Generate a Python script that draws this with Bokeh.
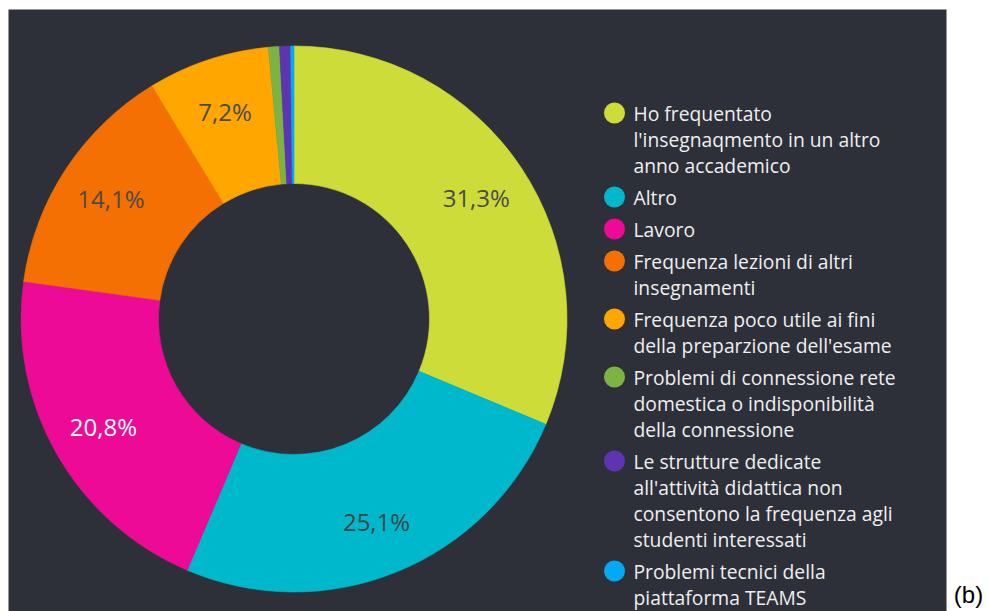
import math
from bokeh.plotting import figure
from bokeh.models import ColumnDataSource, Range1d
from bokeh.core.properties import value
from bokeh.embed import file_html
from bokeh.resources import INLINE

# ---------------- data ----------------
categories = [
    "Ho frequentato\nl'insegnaqmento in un altro\nanno accademico",
    "Altro",
    "Lavoro",
    "Frequenza lezioni di altri\ninsegnamenti",
    "Frequenza poco utile ai fini\ndella preparzione dell'esame",
    "Problemi di connessione rete\ndomestica o indisponibilità\ndella connessione",
    "Le strutture dedicate\nall'attività didattica non\nconsentono la frequenza agli\nstudenti interessati",
    "Problemi tecnici della\npiattaforma TEAMS",
]
percentages = [31.3, 25.1, 20.8, 14.1, 7.2, 0.65, 0.65, 0.2]
value_labels = ["31,3%", "25,1%", "20,8%", "14,1%", "7,2%", "", "", ""]
panel_tag = ["(b)"]

# ---------------- styles ----------------
slice_colors = ["#CDDC39", "#00B8CC", "#EC0A96", "#F57002", "#FFA600",
                "#7CB342", "#5E35B1", "#03A9F4"]
value_label_colors = ["#4A4A4A", "#3F4447", "#FFFFFF", "#4A4A4A", "#4A4A4A",
                      "#4A4A4A", "#4A4A4A", "#4A4A4A"]
PANEL_BG = "#2D3039"
LEGEND_TEXT = "#EFEFEF"
FONT = "Open Sans"

# ---------------- layout (pixel coordinates, y negated) ----------------
W, H = 988, 611
PANEL = dict(left=8, right=946, top=-9, bottom=-H)
CX, CY = 293.5, -318.5
R_OUT, R_IN, R_LBL = 273, 135.5, 219
DOT_X, TXT_X = 614, 633
LEG_Y0, LINE_H, GAP = -112.5, 26, 6
TAG_X, TAG_Y = 968, -593.5

total = sum(percentages)
starts, ends, lx, ly = [], [], [], []
cum = 0.0
for v in percentages:
    a0 = math.pi / 2 - 2 * math.pi * cum / total
    cum += v
    a1 = math.pi / 2 - 2 * math.pi * cum / total
    starts.append(a0)
    ends.append(a1)
    mid = (a0 + a1) / 2
    lx.append(CX + R_LBL * math.cos(mid))
    ly.append(CY + R_LBL * math.sin(mid))

wedge_src = ColumnDataSource(dict(start=starts, end=ends, color=slice_colors))
label_src = ColumnDataSource(dict(x=lx, y=ly, text=value_labels, color=value_label_colors))

dot_x, dot_y, dot_c = [], [], []
row_x, row_y, row_t = [], [], []
y0 = LEG_Y0
for cat, col in zip(categories, slice_colors):
    lines = cat.split("\n")
    dot_x.append(DOT_X)
    dot_y.append(y0)
    dot_c.append(col)
    for j, line in enumerate(lines):
        row_x.append(TXT_X)
        row_y.append(y0 - j * LINE_H)
        row_t.append(line)
    y0 -= len(lines) * LINE_H + GAP

dot_src = ColumnDataSource(dict(x=dot_x, y=dot_y, color=dot_c))
row_src = ColumnDataSource(dict(x=row_x, y=row_y, text=row_t))

p = figure(width=W, height=H, output_backend="svg", toolbar_location=None,
           title=None, x_axis_location=None, y_axis_location=None,
           x_range=Range1d(0, W), y_range=Range1d(-H, 0),
           min_border=0, min_border_left=0, min_border_right=0,
           min_border_top=0, min_border_bottom=0,
           background_fill_color="white", border_fill_color="white",
           outline_line_color=None)
p.grid.visible = False

p.quad(left=PANEL["left"], right=PANEL["right"], top=PANEL["top"],
       bottom=PANEL["bottom"], fill_color=PANEL_BG, line_color=None)

p.annular_wedge(x=CX, y=CY, inner_radius=R_IN, outer_radius=R_OUT,
                start_angle="start", end_angle="end", direction="clock",
                fill_color="color", line_color="color", line_width=0.6,
                source=wedge_src)

p.text(x="x", y="y", text="text", text_color="color", source=label_src,
       text_font=value(FONT), text_font_size=value("24px"),
       text_align="center", text_baseline="middle")

p.scatter(x="x", y="y", fill_color="color", line_color=None, size=21,
          marker="circle", source=dot_src)

p.text(x="x", y="y", text="text", source=row_src, text_color=LEGEND_TEXT,
       text_font=value(FONT), text_font_size=value("19.3px"),
       text_align="left", text_baseline="middle")

p.text(x=[TAG_X], y=[TAG_Y], text=panel_tag, text_color="black",
       text_font=value("Liberation Sans"), text_font_size=value("24px"),
       text_align="center", text_baseline="middle")

open("out.html", "w").write(file_html(p, INLINE))
